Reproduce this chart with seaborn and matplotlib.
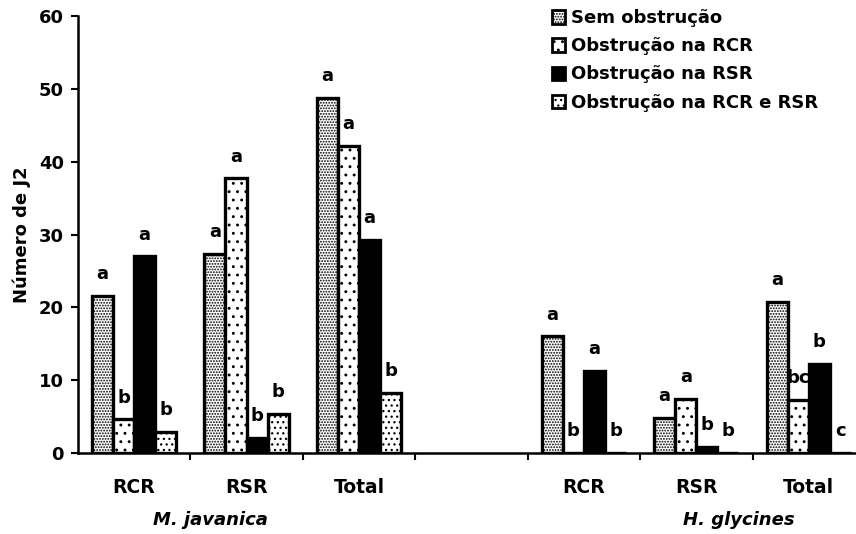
import matplotlib
matplotlib.use("Agg")
import matplotlib.pyplot as plt
import matplotlib.transforms as mtransforms
from matplotlib.patches import Patch
import seaborn as sns
import pandas as pd
import numpy as np

# ---- data ----
slots = ["M_RCR", "M_RSR", "M_Total", "gap", "H_RCR", "H_RSR", "H_Total"]
tick_labels = ["RCR", "RSR", "Total", "", "RCR", "RSR", "Total"]
series = ["Sem obstrução", "Obstrução na RCR", "Obstrução na RSR", "Obstrução na RCR e RSR"]
sem_obstr = [21.6, 27.3, 48.8, None, 16.0, 4.8, 20.8]
obstr_rcr = [4.6, 37.7, 42.2, None, 0.0, 7.4, 7.3]
obstr_rsr = [27.0, 2.1, 29.2, None, 11.3, 0.8, 12.2]
obstr_both = [2.9, 5.4, 8.2, None, 0.0, 0.0, 0.0]
letters_sem = ["a", "a", "a", "", "a", "a", "a"]
letters_rcr = ["b", "a", "a", "", "b", "a", "bc"]
letters_rsr = ["a", "b", "a", "", "a", "b", "b"]
letters_both = ["b", "b", "b", "", "b", "b", "c"]
groups = ["M. javanica", "H. glycines"]

values = [sem_obstr, obstr_rcr, obstr_rsr, obstr_both]
letters = [letters_sem, letters_rcr, letters_rsr, letters_both]

rows = []
for s, vals in zip(series, values):
    for slot, v in zip(slots, vals):
        if v is not None:
            rows.append({"slot": slot, "serie": s, "valor": v})
df = pd.DataFrame(rows)

sns.set_theme(style="white")
plt.rcParams["font.family"] = ["DejaVu Sans"]
plt.rcParams["font.weight"] = "bold"
plt.rcParams["hatch.linewidth"] = 0.9
for k in ["text.color", "axes.labelcolor", "xtick.color", "ytick.color", "axes.edgecolor"]:
    plt.rcParams[k] = "black"

fig = plt.figure(figsize=(8.56, 5.34), dpi=100)
ax = fig.add_axes([0.091, 0.1517, 0.909, 0.8183])

sns.barplot(data=df, x="slot", y="valor", hue="serie", order=slots,
            hue_order=series, width=0.75, ax=ax, errorbar=None,
            palette=["white"] * 4, edgecolor="black", linewidth=2.4,
            legend=False, saturation=1)

faces = ["white", "white", "black", "white"]
hatches = ["......", "..", None, "..."]
for cont, fc, h, lets in zip(ax.containers, faces, hatches, letters):
    for bar in cont:
        bar.set_facecolor(fc)
        if h:
            bar.set_hatch(h)
        ht = bar.get_height()
        xc = bar.get_x() + bar.get_width() / 2
        lt = lets[int(round(xc))]
        if lt and not np.isnan(ht):
            ax.text(xc, ht + 3.0, lt,
                    ha="center", va="center", fontsize=13, fontweight="bold")

ax.set_ylim(0, 60)
ax.set_yticks(range(0, 61, 10))
ax.set_xlim(-0.5, 6.42)
ax.set_xticks(range(len(slots)))
ax.set_xticklabels(tick_labels, fontsize=13.5, fontweight="bold")
ax.tick_params(axis="x", which="major", length=0, pad=18)
ax.set_xticks([i + 0.5 for i in range(6)], minor=True)
ax.tick_params(axis="x", which="minor", length=5, width=1.5, direction="out", bottom=True)
ax.tick_params(axis="y", length=5, width=1.5, direction="out", left=True, labelsize=13, pad=5)
for lbl in ax.get_yticklabels():
    lbl.set_fontweight("bold")
ax.set_xlabel("")
ax.set_ylabel("Número de J2", fontsize=13, fontweight="bold", labelpad=6)
sns.despine(ax=ax)
for sp in ["left", "bottom"]:
    ax.spines[sp].set_linewidth(1.8)
    ax.spines[sp].set_color("black")

trans = mtransforms.blended_transform_factory(ax.transData, ax.transAxes)
ax.text(0.68, -0.153, groups[0], transform=trans, ha="center", va="center",
        fontsize=13, fontweight="bold", style="italic")
ax.text(5.38, -0.153, groups[1], transform=trans, ha="center", va="center",
        fontsize=13, fontweight="bold", style="italic")

handles = [Patch(facecolor=fc, edgecolor="black", hatch=h, linewidth=2)
           for fc, h in zip(faces, hatches)]
fig.legend(handles, series, loc="upper left", bbox_to_anchor=(0.632, 1.003),
           frameon=False, fontsize=13, handlelength=0.75, handleheight=0.75,
           handletextpad=0.3, labelspacing=0.56, borderaxespad=0.2)

fig.savefig("out.png", dpi=100)
